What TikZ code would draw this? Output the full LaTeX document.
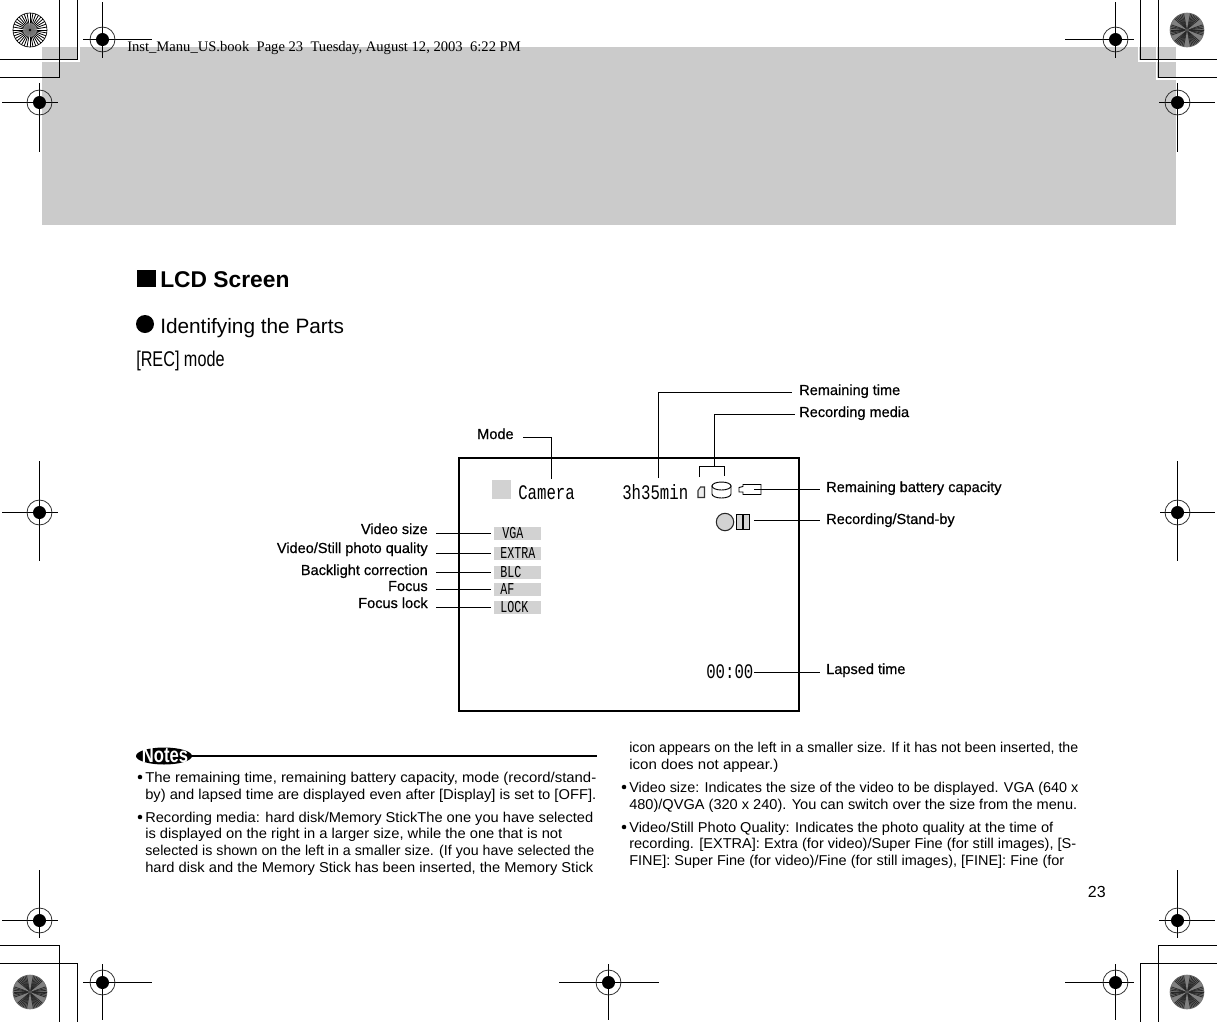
\documentclass[tikz,border=0pt]{standalone}
\usepackage{fontspec}
\usepackage{graphicx}
\setmainfont{Liberation Sans}
\newfontfamily\bodyfont{Liberation Sans}
\newfontfamily\labelfont[FakeBold=0.5]{Liberation Sans}
\newfontfamily\serifhead{Liberation Serif}
\newfontfamily\lcdfont{Liberation Mono}
\definecolor{panelgray}{HTML}{CBCBCB}
\definecolor{taggray}{HTML}{D2D2D2}
\newlength\px
\setlength\px{0.75pt}
\newcommand{\lcdbig}[1]{\scalebox{0.76}[1]{\fontsize{15.5pt}{15.5pt}\lcdfont #1}}
\newcommand{\lcdsmall}[1]{\scalebox{0.7}[1]{\fontsize{12.5pt}{12.5pt}\lcdfont #1}}
\newcommand{\bline}[5]{\node[bodytext] (#1) at (#2,#3) {\resizebox{#4\px}{\height}{#5}};}
\newcommand{\regmark}[6]{%
  \draw[regline] (#3,#2) -- (#4,#2);
  \draw[regline] (#1,#5) -- (#1,#6);
  \draw[black!85,line width=0.55pt] (#1,#2) circle[radius=12.5];
  \fill[black] (#1,#2) circle[radius=6.5];
  \draw[white,line width=0.8pt] (#1-6.5,#2) -- (#1+6.5,#2) (#1,#2-6.5) -- (#1,#2+6.5);
  \draw[black,line width=0.5pt] (#1-6.5,#2) -- (#1+6.5,#2) (#1,#2-6.5) -- (#1,#2+6.5);
}
\newcommand{\burstlight}[2]{%
  \foreach \a in {0,10,...,350}{\draw[black,line width=0.6pt] (#1,#2) -- ++({17*cos(\a)},{17*sin(\a)});}
  \draw[black,line width=0.5pt] (#1,#2) circle[radius=17];
  \fill[gray!90,opacity=.8] (#1,#2) circle[radius=7];
  \fill[black] (#1,#2) circle[radius=1.3];
}
\newcommand{\burstdark}[2]{%
  \fill[black!58] (#1,#2) circle[radius=17.3];
  \foreach \a in {0,6,...,354}{\draw[black!85,line width=0.5pt] (#1,#2) -- ++({16.5*cos(\a)},{16.5*sin(\a)});}
  \foreach \a in {30,90,150,210,270,330}{\fill[black!50] (#1,#2) -- ++({17*cos(\a-9)},{17*sin(\a-9)}) arc[start angle=\a-9,end angle=\a+9,radius=17] -- cycle;}
}
\tikzset{
  regline/.style={black,line width=0.9pt},
  leader/.style={black,line width=0.75pt},
  lbl/.style={inner sep=0pt,font=\labelfont\fontsize{10.9pt}{12pt}\selectfont},
  lble/.style={lbl,anchor=base east},
  lblw/.style={lbl,anchor=base west},
  bodytext/.style={inner sep=0pt,anchor=base west,font=\bodyfont\fontsize{10.7pt}{12pt}\selectfont},
  tag/.style={fill=taggray,inner sep=0pt,minimum width=47*0.75pt,minimum height=13*0.75pt,anchor=north west,text height=7pt,text depth=0pt},
  lcdtext/.style={inner sep=0pt,anchor=center},
  bulletdot/.style={fill=black,circle,inner sep=0pt,minimum size=3.4pt},
}
\begin{document}
\begin{tikzpicture}[x=0.75pt,y=-0.75pt]
\useasboundingbox (0,0) rectangle (1217,1022);
\fill[white] (0,0) rectangle (1217,1022);
% grey panel
\fill[panelgray] (42,47) rectangle (1176,225);
% white edges beside crop marks
\draw[white,line width=1.2pt] (42,61.2) -- (79.2,61.2) -- (79.2,47);
\draw[white,line width=1.2pt] (1176,61.2) -- (1138.3,61.2) -- (1138.3,47);
\draw[white,line width=1.2pt] (1176,79.2) -- (1156.3,79.2) -- (1156.3,47);
% crop marks
\draw[regline] (0,59.5) -- (77.5,59.5) -- (77.5,0);
\draw[regline] (0,77.5) -- (59.5,77.5) -- (59.5,0);
\draw[regline] (1217,59.5) -- (1140.5,59.5) -- (1140.5,0);
\draw[regline] (1217,77.5) -- (1158.5,77.5) -- (1158.5,0);
\draw[regline] (0,945.5) -- (59.5,945.5) -- (59.5,1022);
\draw[regline] (0,963.5) -- (77.5,963.5) -- (77.5,1022);
\draw[regline] (1217,963.5) -- (1140.5,963.5) -- (1140.5,1022);
\draw[regline] (1217,945.5) -- (1158.5,945.5) -- (1158.5,1022);
\burstlight{30}{30}
\burstdark{1187}{30}
\burstdark{30}{992}
\burstdark{1187}{992}
\regmark{102.5}{39.5}{83}{152}{2}{58}
\regmark{39.5}{102.5}{2}{58}{83}{152}
\regmark{1115.5}{39.5}{1065}{1134}{2}{58}
\regmark{1177.5}{102.5}{1159}{1215}{83}{152}
\regmark{39.5}{512.5}{2}{58}{461}{561}
\regmark{1177.5}{512.5}{1160}{1215}{461}{561}
\regmark{39.5}{920.5}{2}{58}{870}{938}
\regmark{102.5}{982.5}{83}{152}{964}{1020}
\regmark{608.5}{982.5}{559}{659}{964}{1020}
\regmark{1115.5}{982.5}{1065}{1134}{964}{1020}
\regmark{1177.5}{920.5}{1159}{1215}{870}{938}
% header
\node[inner sep=0pt,anchor=base west,font=\serifhead\fontsize{10.95pt}{12pt}\selectfont] (hdr) at (127,51) {Inst\_Manu\_US.book\ \ Page 23\ \ Tuesday, August 12, 2003\ \ 6:22 PM};
% headings
\fill[black] (137,270) rectangle (156,287);
\node[inner sep=0pt,anchor=base west,font=\bodyfont\bfseries\fontsize{17.1pt}{20pt}\selectfont] (title) at (160,287.5) {LCD Screen};
\fill[black] (145,324) circle[radius=9];
\node[inner sep=0pt,anchor=base west,font=\bodyfont\fontsize{15.6pt}{18pt}\selectfont] (sub) at (160,333) {Identifying the Parts};
\node[inner sep=0pt,anchor=base west] (rec) at (136,366) {\scalebox{0.76}[1]{\bodyfont\fontsize{16pt}{18pt}\selectfont [REC] mode}};
% screen
\draw[black,line width=1.9pt] (459,458) rectangle (799,711);
\fill[taggray] (492,480) rectangle (511,499);
\node[lcdtext,anchor=west] (camera) at (518,492.5) {\lcdbig{Camera}};
\node[lcdtext,anchor=west] (time) at (622,492.5) {\lcdbig{3h35min}};
\node[lcdtext,anchor=west] (lapsed) at (706,672) {\lcdbig{00:00}};
% card icon
\draw[black!80,line width=0.8pt,fill=taggray!40] (698,497.5) -- (704.5,497.5) -- (704.5,487) -- (700.5,487) -- (698,490.5) -- cycle;
% disk icon
\draw[black,line width=0.7pt,fill=white] (712,486) -- (712,494) arc[start angle=180,end angle=0,x radius=9.5,y radius=4] -- (731,486) -- cycle;
\draw[black,line width=0.7pt,fill=white] (721.5,486) ellipse[x radius=9.5,y radius=4];
% battery icon
\coordinate (bStart) at (754,489.5);
\draw[black,line width=0.7pt,fill=white] (743,484.5) -- (761,484.5) -- (761,494.5) -- (743,494.5) -- (743,492) -- (739,492) -- (739,487.5) -- (743,486.5) -- cycle;
% record icons
\draw[black!85,line width=0.8pt,fill=taggray] (725,522) circle[radius=8.7];
\node[draw=black,line width=0.7pt,fill=taggray,inner sep=0pt,minimum width=13.5*0.75pt,minimum height=15.5*0.75pt] (standby) at (743,522) {};
\draw[black,line width=0.8pt] (743,514) -- (743,530);
% tags
\node[tag] (tVGA) at (494,527) {\makebox[47\px][l]{\hspace{8\px}\lcdsmall{VGA}}};
\node[tag] (tEXTRA) at (494,547) {\makebox[47\px][l]{\hspace{6\px}\lcdsmall{EXTRA}}};
\node[tag] (tBLC) at (494,566) {\makebox[47\px][l]{\hspace{6\px}\lcdsmall{BLC}}};
\node[tag] (tAF) at (494,583) {\makebox[47\px][l]{\hspace{6\px}\lcdsmall{AF}}};
\node[tag] (tLOCK) at (494,601) {\makebox[47\px][l]{\hspace{6\px}\lcdsmall{LOCK}}};
% labels
\node[lblw] (lRT) at (799,395) {Remaining time};
\node[lblw] (lRM) at (799,417) {Recording media};
\node[lblw] (lMode) at (477,439) {Mode};
\node[lble] (lVGA) at (428,534) {Video size};
\node[lble] (lEXTRA) at (428,553) {Video/Still photo quality};
\node[lble] (lBLC) at (428,575) {Backlight correction};
\node[lble] (lAF) at (428,591) {Focus};
\node[lble] (lLOCK) at (428,608) {Focus lock};
\node[lblw] (lBatt) at (826,492) {Remaining battery capacity};
\node[lblw] (lRec) at (826,524) {Recording/Stand-by};
\node[lblw] (lLap) at (826,674) {Lapsed time};
% leader coordinates
\coordinate (rtEnd) at (792,392.5);
\coordinate (rtBot) at (658.5,478);
\coordinate (rmEnd) at (795,414.5);
\coordinate (brL) at (699.5,477);
\coordinate (brR) at (724.5,476);
\coordinate (brM) at (714.5,466.5);
\coordinate (mEnd) at (523,437.5);
\coordinate (mBot) at (551.5,479);
\coordinate (bEnd) at (820,489.5);
\coordinate (rEnd) at (820,520.5);
\coordinate (rStart) at (754,520.5);
\coordinate (lEnd) at (820,672.5);
\coordinate (lStart) at (754,672.5);
% leaders
\draw[leader] (rtBot) |- (rtEnd);
\draw[leader] (brM) |- (rmEnd);
\draw[leader] (brL) |- (brM) -| (brR);
\draw[leader] (mBot) |- (mEnd);
\draw[leader] (bStart) -- (bEnd);
\draw[leader] (rStart) -- (rEnd);
\draw[leader] (lStart) -- (lEnd);
\foreach \n in {VGA,EXTRA,BLC,AF,LOCK}{
  \draw[leader,shorten <=8*0.75pt,shorten >=3*0.75pt] (t\n.west -| l\n.east) -- (t\n.west);
}
% notes
\draw[black,line width=1.9pt] (180,756) -- (597,756);
\fill[black] (164,756) ellipse[x radius=28,y radius=8.5];
\node[inner sep=0pt,text=white] (notes) at (165,755.5) {\scalebox{0.78}[1]{\bodyfont\bfseries\fontsize{16pt}{16pt}\selectfont Notes}};
% body left
\node[bulletdot] (b1) at (140,777) {};
\bline{L1}{145}{782}{451}{The remaining time, remaining battery capacity, mode (record/stand-}
\bline{L2}{145}{799}{451}{by) and lapsed time are displayed even after [Display] is set to [OFF].}
\node[bulletdot] (b2) at (140,817) {};
\bline{L3}{145}{822}{448}{Recording media: hard disk/Memory StickThe one you have selected}
\bline{L4}{145}{838.5}{417}{is displayed on the right in a larger size, while the one that is not}
\bline{L5}{145}{855}{449}{selected is shown on the left in a smaller size. (If you have selected the}
\bline{L6}{145}{872}{448}{hard disk and the Memory Stick has been inserted, the Memory Stick}
% body right
\bline{R1}{629}{752}{449}{icon appears on the left in a smaller size. If it has not been inserted, the}
\bline{R2}{629}{769}{149}{icon does not appear.)}
\node[bulletdot] (b3) at (624,787) {};
\bline{R3}{629}{792}{449}{Video size: Indicates the size of the video to be displayed. VGA (640 x}
\bline{R4}{629}{809}{448}{480)/QVGA (320 x 240). You can switch over the size from the menu.}
\node[bulletdot] (b4) at (624,827) {};
\bline{R5}{629}{832}{424}{Video/Still Photo Quality: Indicates the photo quality at the time of}
\bline{R6}{629}{848.5}{447}{recording. [EXTRA]: Extra (for video)/Super Fine (for still images), [S-}
\bline{R7}{629}{865}{435}{FINE]: Super Fine (for video)/Fine (for still images), [FINE]: Fine (for}
\node[inner sep=0pt,anchor=base east,font=\bodyfont\fontsize{12pt}{14pt}\selectfont] (pg) at (1106,897) {23};
\end{tikzpicture}
\end{document}
